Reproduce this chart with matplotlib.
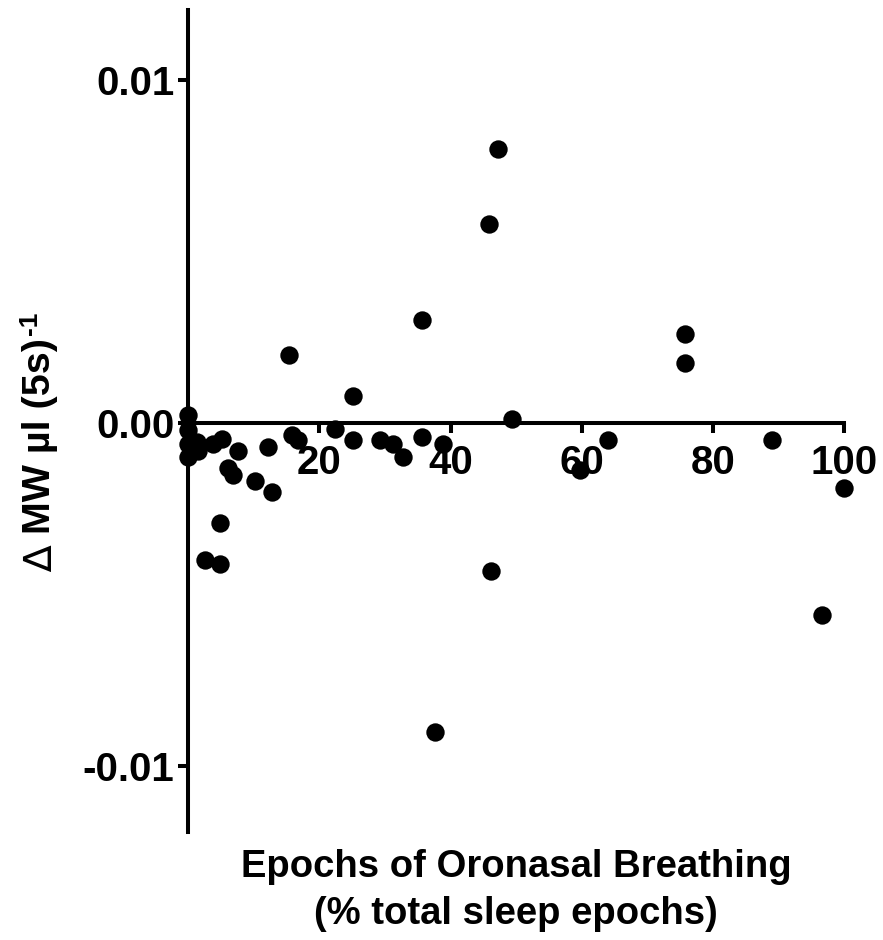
import matplotlib
matplotlib.use('Agg')
import matplotlib.pyplot as plt
import numpy as np

plt.rcParams['font.family'] = ['Liberation Sans', 'DejaVu Sans']
plt.rcParams['font.weight'] = 'bold'

# % oronasal epochs vs delta MW
pct_oronasal = [0, 0, 0, 0, 1.3, 1.5, 2.6, 4.8, 4.8, 3.8, 5.1, 6.1, 6.9, 7.6,
                10.2, 12.2, 12.8, 15.4, 15.8, 16.7, 22.4, 25.2, 25.2, 29.3,
                31.3, 32.8, 35.6, 35.6, 38.9, 37.7, 45.8, 47.3, 46.1, 49.3,
                59.8, 64.0, 75.7, 75.7, 89.0, 96.7, 100]
delta_mw = [0.00023, -0.0002, -0.0006, -0.0010, -0.00055, -0.0008, -0.0040,
            -0.0041, -0.0029, -0.0006, -0.00047, -0.0013, -0.0015, -0.0008,
            -0.0017, -0.0007, -0.0020, 0.0020, -0.00035, -0.0005, -0.00018,
            0.0008, -0.0005, -0.0005, -0.0006, -0.0010, 0.0030, -0.0004,
            -0.0006, -0.0090, 0.0058, 0.0080, -0.0043, 0.00012, -0.00137,
            -0.0005, 0.0026, 0.00175, -0.0005, -0.0056, -0.0019]

xticks = [20, 40, 60, 80, 100]
yticks = [0.01, 0.0, -0.01]
ytick_labels = ['0.01', '0.00', '-0.01']

fig = plt.figure(figsize=(8.83, 9.4), dpi=100)
ax = fig.add_axes([0.213, 0.115, 0.743, 0.874])

ax.scatter(pct_oronasal, delta_mw, s=175, color='black', clip_on=False, zorder=5, linewidths=0)

ax.set_xlim(0, 100)
ax.set_ylim(-0.01192, 0.01204)

for side in ['top', 'right']:
    ax.spines[side].set_visible(False)
ax.spines['bottom'].set_position(('data', 0))
ax.spines['left'].set_linewidth(2.9)
ax.spines['bottom'].set_linewidth(2.9)

ax.set_xticks(xticks)
ax.set_xticklabels([str(t) for t in xticks])
ax.set_yticks(yticks)
ax.set_yticklabels(ytick_labels)
ax.tick_params(axis='both', width=2.9, length=7, labelsize=29)
ax.tick_params(axis='x', pad=8)
ax.tick_params(axis='y', pad=3)

ax.text(0.5, -0.021, 'Epochs of Oronasal Breathing\n(% total sleep epochs)',
        transform=ax.transAxes, ha='center', va='top', fontsize=27.5,
        fontweight='bold', linespacing=1.38)

# y label: thin delta, bold text, then the -1 superscript
ylab = fig.text(0.045, 0.536, 'MW µl (5s)', rotation=90,
                ha='center', va='center', fontsize=28.4, fontweight='bold')
ax.annotate('\u2206', xy=(0, 0), xycoords=ylab, xytext=(0, -8),
            textcoords='offset points', rotation=90, ha='left', va='top',
            fontsize=28.4, fontweight='normal', family=['DejaVu Sans'])
ax.annotate('-1', xy=(0, 1), xycoords=ylab, xytext=(-3, 2),
            textcoords='offset points', rotation=90, ha='left', va='bottom',
            fontsize=19, fontweight='bold')

fig.savefig('out.png', dpi=100)
